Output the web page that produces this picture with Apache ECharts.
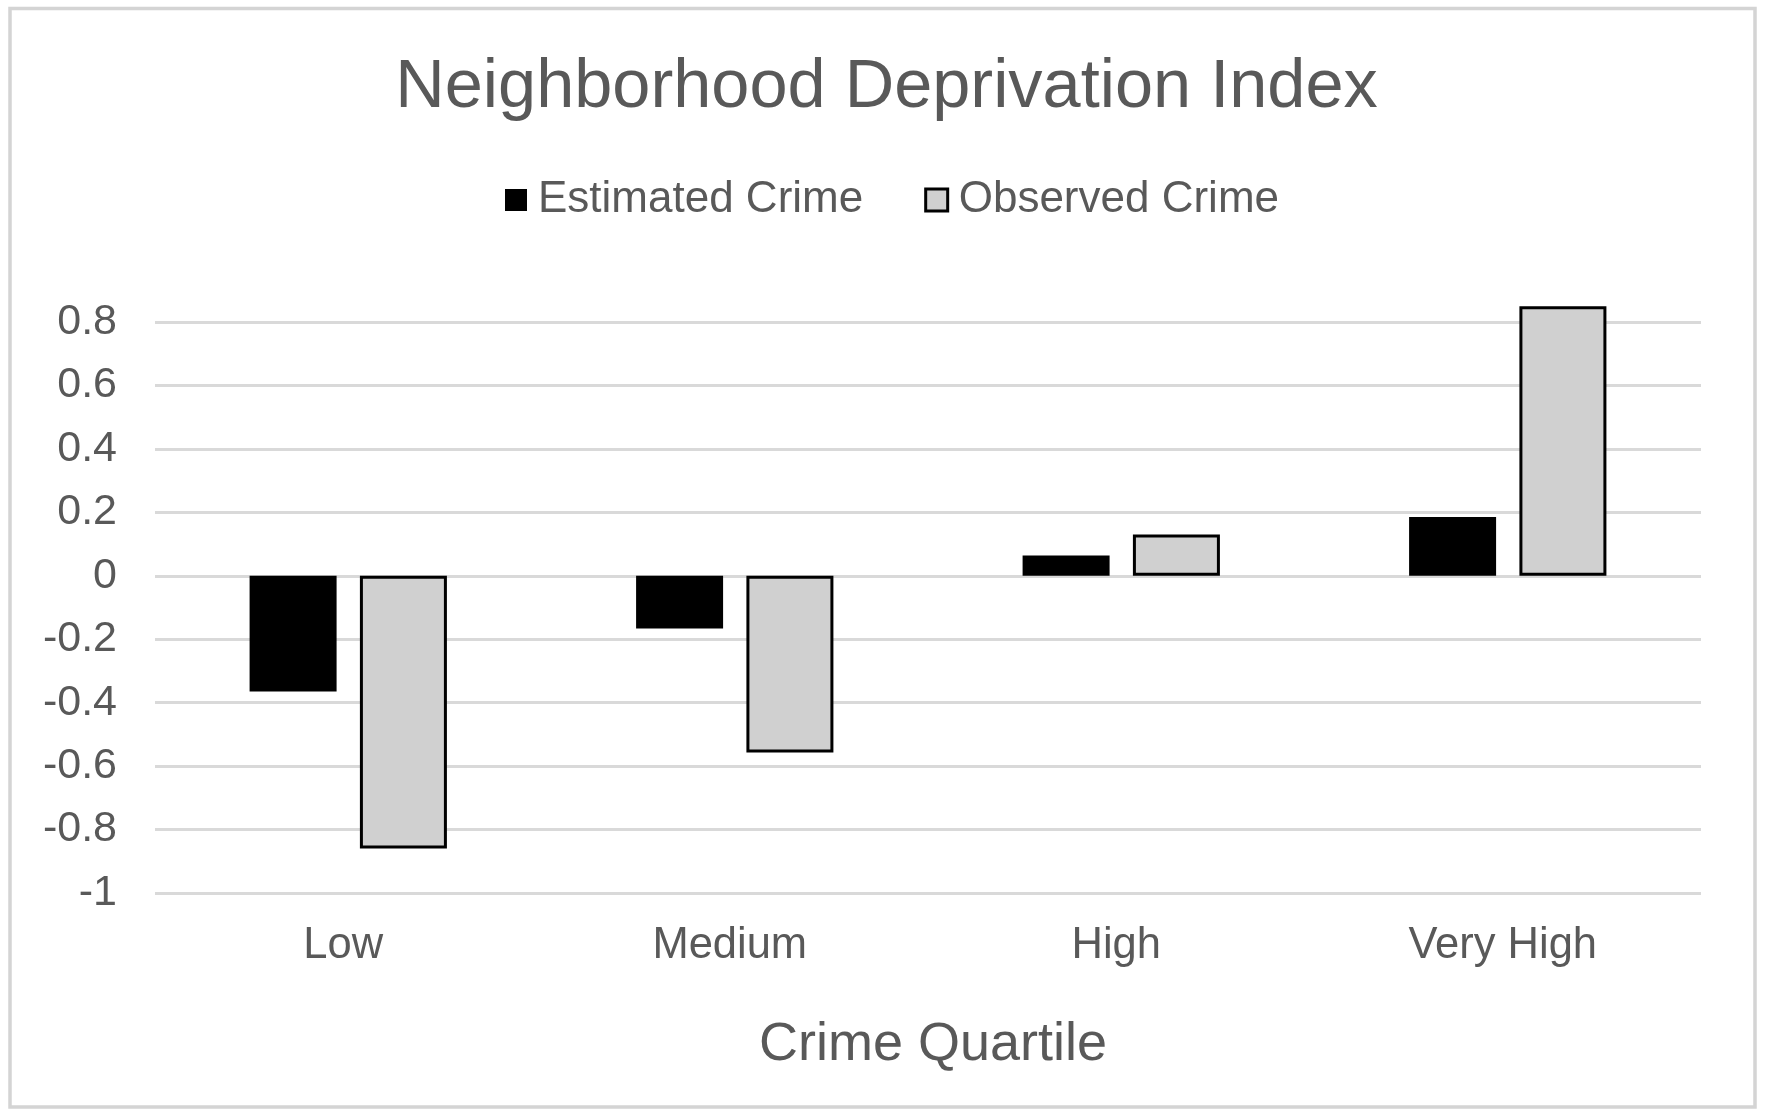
<!DOCTYPE html>
<html>
<head>
<meta charset="utf-8">
<script src="https://cdn.jsdelivr.net/npm/echarts@6/dist/echarts.min.js"></script>
<style>
  html, body { margin: 0; padding: 0; background: #ffffff; }
  #chart { width: 1773px; height: 1116px; }
</style>
</head>
<body>
<div id="chart"></div>
<script>
const categories = ["Low", "Medium", "High", "Very High"];
const estimatedCrime = [-0.365, -0.166, 0.064, 0.185];
const observedCrime = [-0.86, -0.557, 0.13, 0.85];
const seriesNames = ["Estimated Crime", "Observed Crime"];
const chartTitle = "Neighborhood Deprivation Index";
const xAxisTitle = "Crime Quartile";

const FONT = "Liberation Sans, Arial, Helvetica, sans-serif";
const TEXT = "#595959";

const chart = echarts.init(document.getElementById('chart'), null, { renderer: 'canvas' });
chart.setOption({
  animation: false,
  backgroundColor: '#ffffff',
  textStyle: { fontFamily: FONT },
  title: {
    text: chartTitle,
    left: 'center',
    top: 49,
    padding: [5, 13, 5, 5],
    textStyle: { fontFamily: FONT, fontSize: 68.5, fontWeight: 'normal', color: TEXT, lineHeight: 68 }
  },
  graphic: [{
    type: 'rect',
    silent: true,
    z: -1,
    shape: { x: 10, y: 8.5, width: 1745, height: 1098.5 },
    style: { fill: 'none', stroke: '#d4d4d4', lineWidth: 3.5 }
  }],
  legend: {
    left: 500,
    top: 173,
    itemWidth: 22,
    itemHeight: 22,
    itemGap: 61,
    icon: 'rect',
    textStyle: { fontFamily: FONT, fontSize: 44, color: TEXT, lineHeight: 44, padding: [0, 0, 0, 6] },
    data: [
      { name: seriesNames[0], itemStyle: { color: '#000000', borderWidth: 0 } },
      { name: seriesNames[1], itemStyle: { color: '#d0d0d0', borderColor: '#000000', borderWidth: 3 } }
    ]
  },
  grid: { left: 155, right: 72, top: 322, bottom: 223, containLabel: false },
  xAxis: {
    type: 'category',
    data: categories,
    axisLine: { show: false },
    axisTick: { show: false },
    axisLabel: { fontFamily: FONT, fontSize: 43.5, color: TEXT, margin: 31, lineHeight: 43, padding: [0, 10, 0, 0] },
    name: xAxisTitle,
    nameLocation: 'middle',
    nameGap: 125,
    nameTextStyle: { fontFamily: FONT, fontSize: 54, color: TEXT, lineHeight: 54, padding: [0, 0, 0, 10] }
  },
  yAxis: {
    type: 'value',
    min: -1,
    max: 0.8,
    interval: 0.2,
    axisLine: { show: false },
    axisTick: { show: false },
    axisLabel: {
      fontFamily: FONT, fontSize: 43, color: TEXT, margin: 38,
      formatter: function (v) { return String(Math.round(v * 10) / 10); }
    },
    splitLine: { show: true, lineStyle: { color: '#d9d9d9', width: 3 } }
  },
  series: [
    {
      name: seriesNames[0],
      type: 'bar',
      data: estimatedCrime,
      barWidth: 87,
      barGap: '26.8%',
      clip: false,
      itemStyle: { color: '#000000' }
    },
    {
      name: seriesNames[1],
      type: 'bar',
      data: observedCrime,
      barWidth: 87,
      clip: false,
      itemStyle: { color: '#d0d0d0', borderColor: '#000000', borderWidth: 3 }
    }
  ]
});
</script>
</body>
</html>
